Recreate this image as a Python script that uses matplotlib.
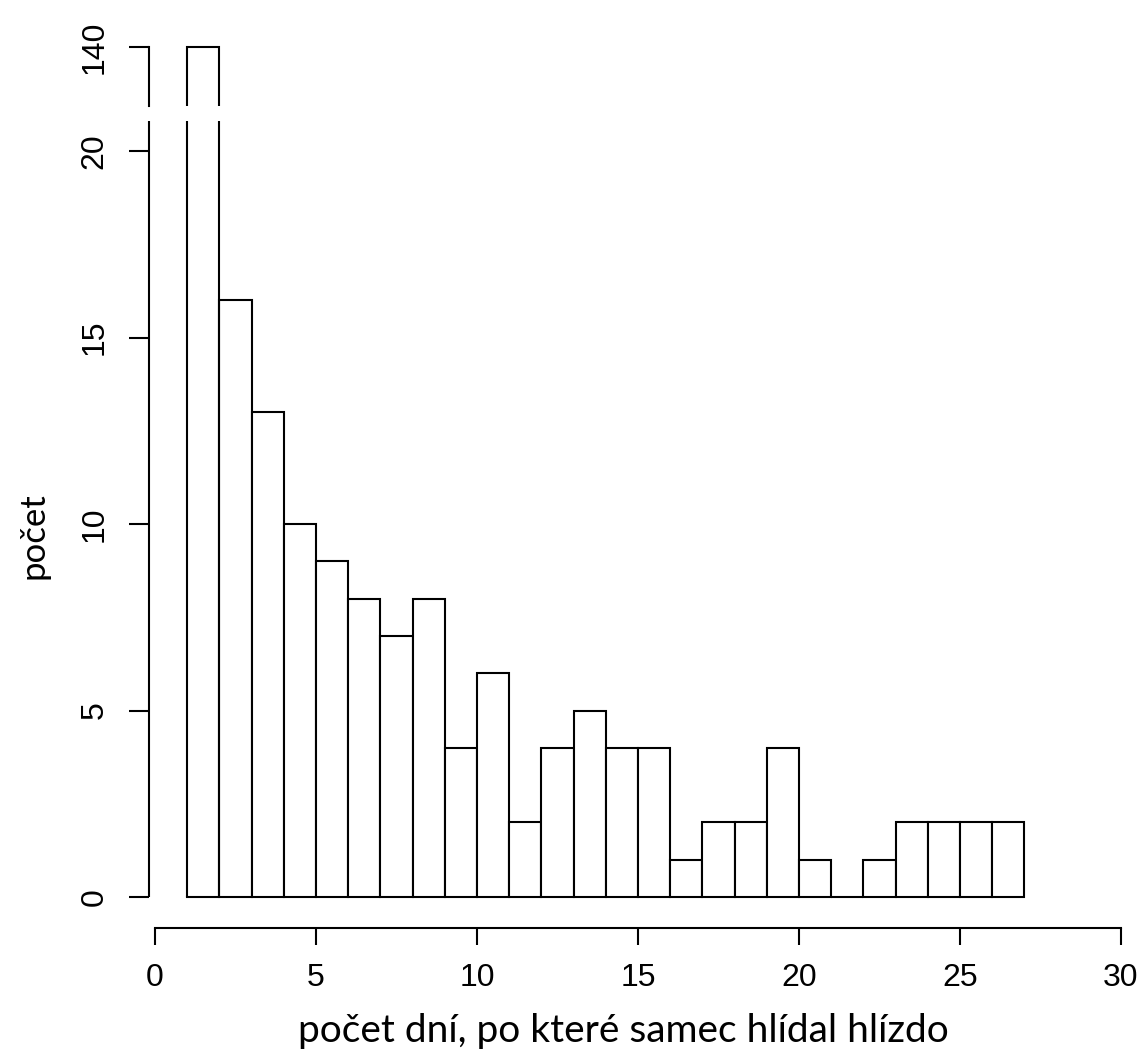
import matplotlib
matplotlib.use("Agg")
import matplotlib.pyplot as plt
import numpy as np

# ---- data ----
bin_left = [1, 2, 3, 4, 5, 6, 7, 8, 9, 10, 11, 12, 13, 14, 15, 16, 17, 18, 19, 20,
            21, 22, 23, 24, 25, 26]
counts = [140, 16, 13, 10, 9, 8, 7, 8, 4, 6, 2, 4, 5, 4, 4, 1, 2, 2, 4, 1,
          0, 1, 2, 2, 2, 2]
x_ticks = [0, 5, 10, 15, 20, 25, 30]
y_ticks_low = [0, 5, 10, 15, 20]
y_ticks_high = [140]
xlabel = "počet dní, po které samec hlídal hlízdo"
ylabel = "počet"

# axis break (values)
gap_lo = 20.80
gap_hi = 138.42
shift = gap_hi - 21.21


def disp(v):
    v = np.asarray(v, dtype=float)
    return np.where(v > gap_lo, v - shift, v)


W, H = 1143, 1059
fig = plt.figure(figsize=(W / 100, H / 100), dpi=100)
left_px, right_px = 149, 1135
top_px, bot_px = 37, 928
ax = fig.add_axes([left_px / W, 1 - bot_px / H, (right_px - left_px) / W, (bot_px - top_px) / H])

ppu_x = 32.2
x0_px = 155
ax.set_xlim((left_px - x0_px) / ppu_x, (right_px - x0_px) / ppu_x)
ppu_y = 37.3
y0_px = 897
ax.set_ylim((y0_px - bot_px) / ppu_y, (y0_px - top_px) / ppu_y)

lw = 1.5
tick_font = dict(family="Liberation Sans", size=23)

# bars
for xl, c in zip(bin_left, counts):
    if c <= gap_lo:
        ax.bar(xl, c, width=1, align="edge", facecolor="white", edgecolor="black",
               linewidth=lw, zorder=2)
    else:
        top = float(disp(c))
        glo = float(disp(gap_lo))
        ghi = float(disp(gap_hi))
        # lower piece (open top)
        ax.plot([xl, xl], [0, glo], color="black", lw=lw, solid_capstyle="butt", zorder=3)
        ax.plot([xl + 1, xl + 1], [0, glo], color="black", lw=lw, solid_capstyle="butt", zorder=3)
        ax.plot([xl, xl + 1], [0, 0], color="black", lw=lw, zorder=3)
        # upper piece (open bottom)
        ax.plot([xl, xl, xl + 1, xl + 1], [ghi, top, top, ghi], color="black", lw=lw,
                solid_capstyle="butt", solid_joinstyle="miter", zorder=3)

# spines
for s in ["top", "right", "left"]:
    ax.spines[s].set_visible(False)
ax.spines["bottom"].set_bounds(x_ticks[0], x_ticks[-1])
ax.spines["bottom"].set_linewidth(lw)

ax.set_xticks(x_ticks)
ax.set_xticklabels([str(t) for t in x_ticks], **tick_font)
ax.tick_params(axis="x", length=12.2, width=lw, pad=13)

# y axis drawn in two segments
ytrans = ax.get_yaxis_transform()
glo = float(disp(gap_lo))
ghi = float(disp(gap_hi))
ax.plot([0, 0], [y_ticks_low[0], glo], transform=ytrans, color="black", lw=lw,
        clip_on=False, solid_capstyle="butt")
ax.plot([0, 0], [ghi, float(disp(y_ticks_high[-1]))], transform=ytrans, color="black",
        lw=lw, clip_on=False, solid_capstyle="projecting")

yt = list(y_ticks_low) + list(y_ticks_high)
ax.set_yticks([float(disp(v)) for v in yt])
ax.set_yticklabels([str(v) for v in yt], rotation=90, va="center", **tick_font)
ax.tick_params(axis="y", length=14.4, width=lw, pad=14)

fig.text(623 / W, 1 - 1042 / H, xlabel, ha="center", va="baseline",
         family="Lato", size=28)
fig.text(33 / W, 1 - 536 / H, ylabel, ha="center", va="center", rotation=90,
         family="Lato", size=25)

fig.savefig("out.png", dpi=100, facecolor="white")
